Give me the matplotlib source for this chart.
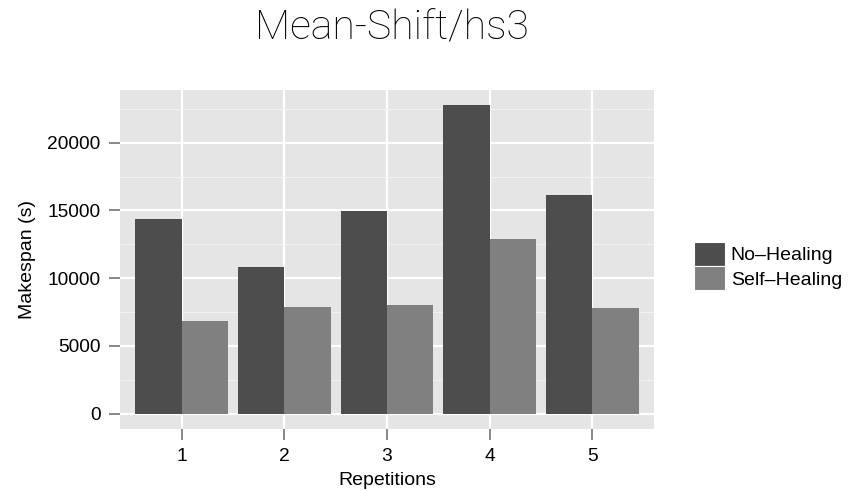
import matplotlib
matplotlib.use("Agg")
import matplotlib.pyplot as plt
import numpy as np
from matplotlib.patches import Patch

# Makespan per repetition for the Mean-Shift/hs3 workload
repetitions = ["1", "2", "3", "4", "5"]
no_healing = [14400, 10790, 14990, 22750, 16170]
self_healing = [6810, 7840, 7990, 12920, 7770]
series_names = ["No\u2013Healing", "Self\u2013Healing"]
series_colors = ["#4d4d4d", "#808080"]
y_ticks = [0, 5000, 10000, 15000, 20000]

plt.rcParams["font.family"] = ["Liberation Sans", "DejaVu Sans"]

fig = plt.figure(figsize=(8.59, 4.91), dpi=100)
ax = fig.add_axes([120 / 859, 1 - 429 / 491, 534 / 859, 339 / 491])
ax.set_facecolor("#e5e5e5")

x = np.arange(len(repetitions)) + 1
bar_w = 0.45
ax.bar(x - bar_w / 2, no_healing, width=bar_w, color=series_colors[0], zorder=3)
ax.bar(x + bar_w / 2, self_healing, width=bar_w, color=series_colors[1], zorder=3)

# ggplot-like scale expansion
ymax = max(max(no_healing), max(self_healing))
ax.set_ylim(-0.05 * ymax, 1.05 * ymax)
ax.set_xlim(0.4, len(repetitions) + 0.6)

ax.set_xticks(x)
ax.set_xticklabels(repetitions)
ax.set_yticks(y_ticks)
ax.set_yticklabels([str(v) for v in y_ticks])
ax.set_yticks([2500, 7500, 12500, 17500, 22500], minor=True)

ax.grid(which="major", color="white", linewidth=1.6, zorder=1)
ax.grid(which="minor", axis="y", color="#f2f2f2", linewidth=0.8, zorder=1)
ax.tick_params(which="minor", length=0)
ax.tick_params(which="major", length=8, width=1.3, color="#7f7f7f",
               labelsize=13.8, labelcolor="black")
ax.tick_params(axis="x", pad=5.5)
ax.tick_params(axis="y", pad=6)
for s in ax.spines.values():
    s.set_visible(False)

ax.set_xlabel("Repetitions", fontsize=14, labelpad=5)
ax.set_ylabel("Makespan (s)", fontsize=14, labelpad=8)

fig.text(392 / 859, 1 - 40 / 491, "Mean-Shift/hs3", fontsize=29.5,
         family=["Roboto", "Liberation Sans"], weight="light", color="black",
         ha="center", va="baseline")

handles = [Patch(facecolor=c, edgecolor="white", linewidth=0.8) for c in series_colors]
fig.legend(handles, series_names, loc="center left",
           bbox_to_anchor=(686 / 859, 1 - 266 / 491), frameon=False,
           fontsize=14, handlelength=1.6, handleheight=1.55,
           handletextpad=0.3, labelspacing=0.0, borderaxespad=0)

fig.savefig("out.png", dpi=100)
